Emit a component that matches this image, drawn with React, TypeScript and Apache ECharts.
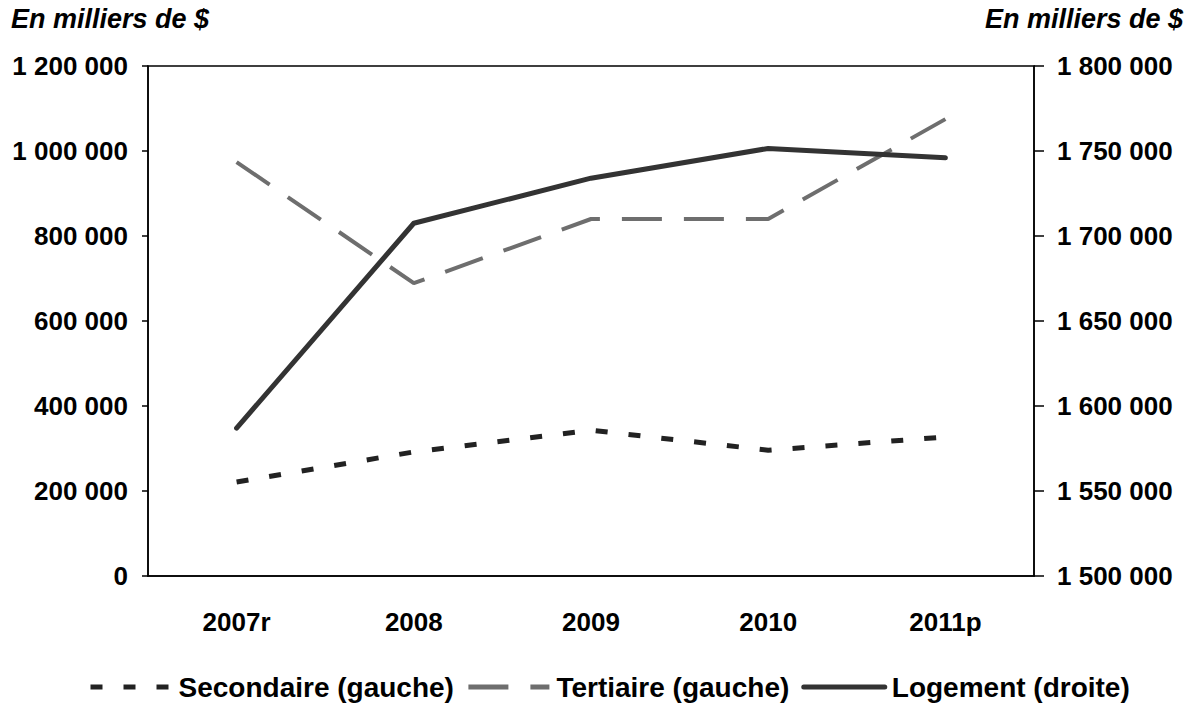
import React, { useEffect, useRef } from "react";
import * as echarts from "echarts";

const categories = ["2007r", "2008", "2009", "2010", "2011p"];
const secondaire = [221000, 292000, 343000, 296000, 327000];
const tertiaire = [974000, 689000, 840000, 840000, 1075000];
const logement = [1587000, 1707500, 1734000, 1751500, 1746000];
const axisTitle = "En milliers de $";
const seriesNames = ["Secondaire (gauche)", "Tertiaire (gauche)", "Logement (droite)"];

const fmt = (v: number) => {
  const s = String(Math.round(v));
  return s.replace(/\B(?=(\d{3})+(?!\d))/g, " ");
};

const FONT = "'Liberation Sans', Arial, sans-serif";
const C_SEC = "#222222";
const C_TER = "#6e6e6e";
const C_LOG = "#333333";
const DASH_SEC = [12, 21];
const DASH_TER = [40, 22];

export default function App() {
  const ref = useRef<HTMLDivElement>(null);
  useEffect(() => {
    if (!ref.current) return;
    const chart = echarts.init(ref.current, undefined, { renderer: "svg" });
    const labelStyle = { color: "#000", fontFamily: FONT, fontWeight: "bold" as const, fontSize: 26 };
    chart.setOption({
      animation: false,
      backgroundColor: "#fff",
      grid: { left: 148, right: 158, top: 66, bottom: 130, show: true, borderColor: "#000", borderWidth: 1.5 },
      graphic: [
        { type: "text", left: 11, top: 5, style: { text: axisTitle, fill: "#000", font: `italic bold 27px ${FONT}` } },
        { type: "text", right: 9, top: 5, style: { text: axisTitle, fill: "#000", font: `italic bold 27px ${FONT}` } },
      ],
      legend: {
        bottom: 0,
        left: 83,
        itemWidth: 81,
        itemHeight: 14,
        itemGap: 12,
        textStyle: { color: "#000", fontFamily: FONT, fontWeight: "bold", fontSize: 28, padding: [0, 0, 0, 2] },
        data: [
          { name: seriesNames[0], itemStyle: { opacity: 0 }, lineStyle: { color: C_SEC, width: 5, type: DASH_SEC, cap: "butt" } },
          { name: seriesNames[1], itemStyle: { opacity: 0 }, lineStyle: { color: C_TER, width: 5, type: DASH_TER, cap: "butt" } },
          { name: seriesNames[2], itemStyle: { opacity: 0 }, lineStyle: { color: C_LOG, width: 5, type: "solid", cap: "round" } },
        ],
      },
      xAxis: {
        type: "category",
        data: categories,
        boundaryGap: true,
        axisLine: { show: true, lineStyle: { color: "#000", width: 1.5 } },
        axisTick: { show: false },
        axisLabel: { ...labelStyle, margin: 33 },
      },
      yAxis: [
        {
          type: "value",
          min: 0,
          max: 1200000,
          interval: 200000,
          position: "left",
          splitLine: { show: false },
          axisLine: { show: true, lineStyle: { color: "#000", width: 1.5 } },
          axisTick: { show: true, inside: false, length: 6, lineStyle: { color: "#000", width: 1.5 } },
          axisLabel: { ...labelStyle, margin: 20, formatter: fmt },
        },
        {
          type: "value",
          min: 1500000,
          max: 1800000,
          interval: 50000,
          position: "right",
          splitLine: { show: false },
          axisLine: { show: true, lineStyle: { color: "#000", width: 1.5 } },
          axisTick: { show: true, inside: false, length: 10, lineStyle: { color: "#000", width: 1.5 } },
          axisLabel: { ...labelStyle, margin: 23, formatter: fmt },
        },
      ],
      series: [
        {
          name: seriesNames[0],
          type: "line",
          yAxisIndex: 0,
          data: secondaire,
          symbol: "none",
          color: C_SEC,
          lineStyle: { color: C_SEC, width: 5, type: DASH_SEC, cap: "butt" },
        },
        {
          name: seriesNames[1],
          type: "line",
          yAxisIndex: 0,
          data: tertiaire,
          symbol: "none",
          color: C_TER,
          lineStyle: { color: C_TER, width: 4, type: DASH_TER, cap: "butt" },
        },
        {
          name: seriesNames[2],
          type: "line",
          yAxisIndex: 1,
          data: logement,
          symbol: "none",
          color: C_LOG,
          z: 3,
          lineStyle: { color: C_LOG, width: 5, cap: "round", join: "round" },
        },
      ],
    });
    return () => chart.dispose();
  }, []);
  return <div ref={ref} style={{ width: 1192, height: 706, position: "absolute", left: 0, top: 0 }} />;
}
